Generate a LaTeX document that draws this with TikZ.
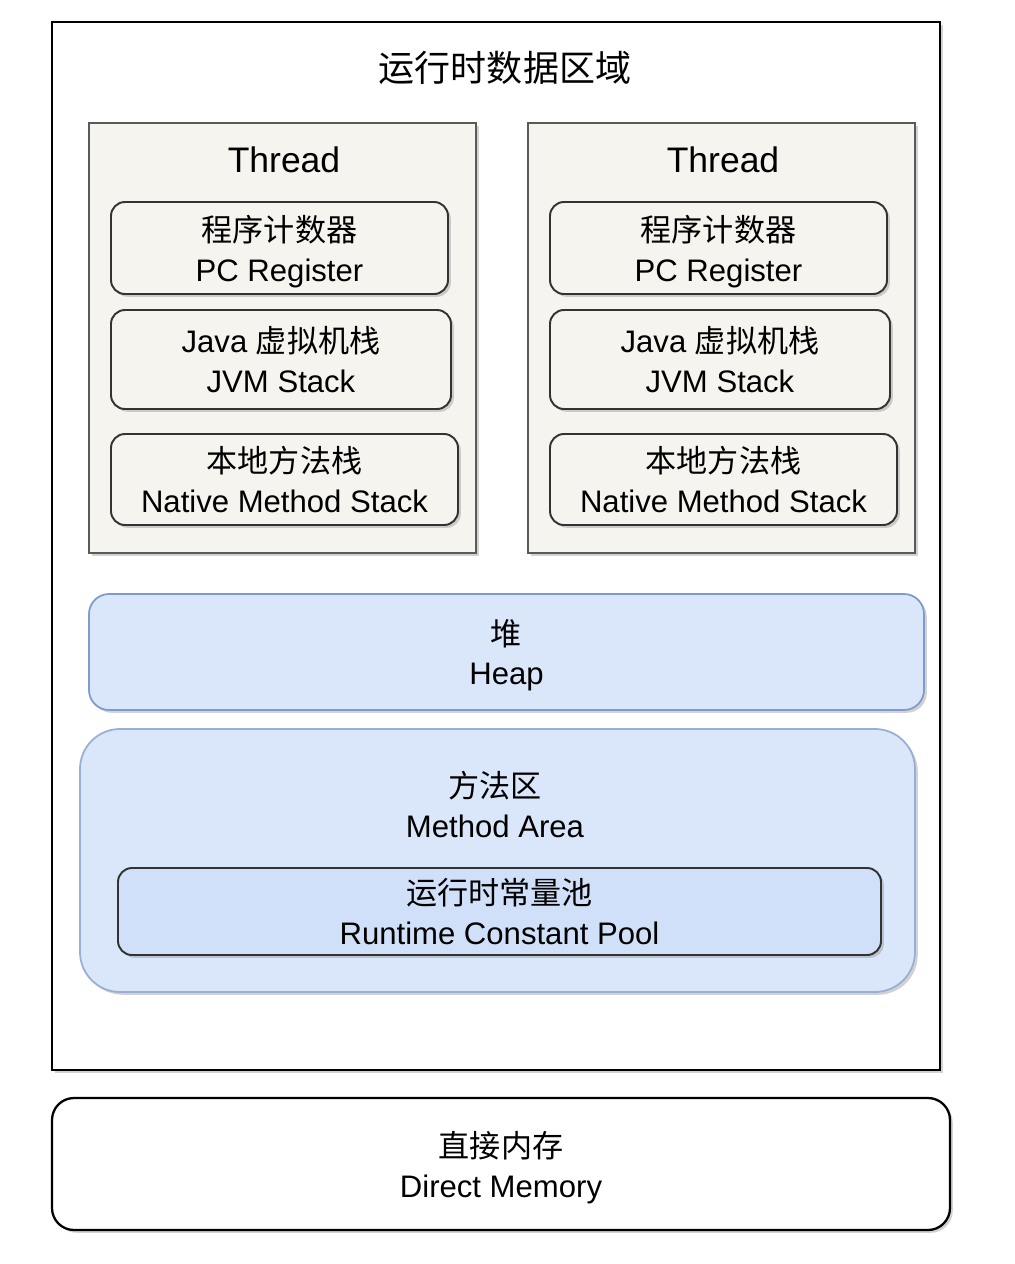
\documentclass[tikz,border=0pt]{standalone}
\usepackage{fontspec}
\setmainfont{Liberation Sans}
\newfontfamily\cjk{Noto Sans CJK SC}
\usepackage{tikz}
\usetikzlibrary{shadows}

\definecolor{threadfill}{HTML}{F5F4EE}
\definecolor{threadline}{HTML}{5A5A5A}
\definecolor{heapfill}{HTML}{DAE6FA}
\definecolor{heapline}{HTML}{7E9BCB}
\definecolor{poolfill}{HTML}{CFE0F8}

\begin{document}
\begin{tikzpicture}[
    shade/.style={drop shadow={shadow xshift=1.6pt,shadow yshift=-1.6pt,opacity=0.35}},
    box/.style={draw, align=center, inner sep=0pt, text depth=0pt, line width=1pt,
      font=\fontsize{17.7}{22.7}\selectfont, shade},
    threadbox/.style={box, draw=threadline, fill=threadfill, line width=1.3pt},
    membox/.style={box, draw=black!80, fill=threadfill, rounded corners=0.28cm, line width=1.1pt},
    bluebox/.style={box, draw=heapline, fill=heapfill}
  ]
  \useasboundingbox[fill=white] (0,0) rectangle (20.28,-25.28);

  %% Runtime data area
  \node[box, line width=1.3pt, fill=white, minimum width=17.76cm, minimum height=20.96cm]
    (RDA) at (9.92,-10.92) {};
  \node[font=\fontsize{20.5}{24}\selectfont] (RDAlabel) at (10.1,-1.36) {\cjk 运行时数据区域};

  %% Two threads, each with its own private areas
  \foreach \i/\x in {L/0,R/8.78}
  {
    \node[threadbox, minimum width=7.74cm, minimum height=8.6cm] (Thread\i) at (5.65+\x,-6.76) {};
    \node[font=\fontsize{20.2}{24}\selectfont] (ThreadLabel\i) at (5.68+\x,-3.2) {Thread};
    \node[membox, minimum width=6.74cm, minimum height=1.84cm] (PC\i) at (5.59+\x,-4.96)
      {{\cjk 程序计数器}\\PC Register};
    \node[membox, minimum width=6.8cm, minimum height=1.98cm] (JVM\i) at (5.62+\x,-7.19)
      {Java {\cjk 虚拟机栈}\\JVM Stack};
    \node[membox, minimum width=6.94cm, minimum height=1.82cm] (NMS\i) at (5.69+\x,-9.59)
      {{\cjk 本地方法栈}\\Native Method Stack};
  }

  %% Shared areas
  \node[bluebox, rounded corners=0.4cm, minimum width=16.7cm, minimum height=2.32cm]
    (Heap) at (10.13,-13.04) {{\cjk 堆}\\Heap};
  \node[bluebox, draw=heapline!80, rounded corners=0.8cm, minimum width=16.7cm, minimum height=5.26cm]
    (MA) at (9.95,-17.21) {};
  \node[align=center, font=\fontsize{17.7}{22.7}\selectfont] (MAlabel) at (9.9,-16.09)
    {{\cjk 方法区}\\Method Area};
  \node[box, draw=black!80, fill=poolfill, rounded corners=0.28cm, line width=1.1pt,
    minimum width=15.26cm, minimum height=1.74cm]
    (Pool) at (9.99,-18.23) {{\cjk 运行时常量池}\\Runtime Constant Pool};

  %% Outside the runtime data area
  \node[box, line width=1.3pt, fill=white, rounded corners=0.44cm, minimum width=17.96cm, minimum height=2.64cm]
    (DM) at (10.02,-23.28) {{\cjk 直接内存}\\Direct Memory};

\end{tikzpicture}
\end{document}
